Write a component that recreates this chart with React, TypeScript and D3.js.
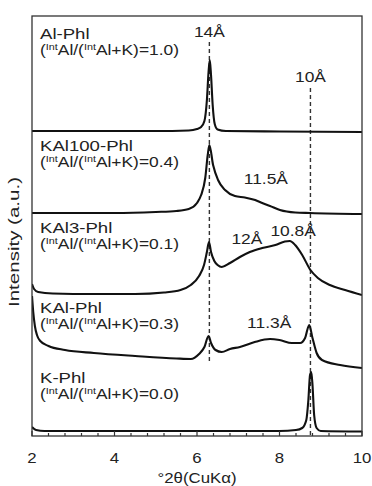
import React from "react";
import * as d3 from "d3";

// Diffraction patterns, stacked intensity (a.u.) sampled along 2θ (degrees, CuKα)
const alPhlTheta = [2.0, 5.0, 5.8, 6.0, 6.1, 6.18, 6.24, 6.28, 6.31, 6.34, 6.38, 6.43, 6.5, 6.7, 8.0, 10.0];
const alPhlInt = [305, 305, 305.5, 307, 309, 315, 336, 364, 376, 361, 331, 312, 306.5, 305, 304.5, 304];

const kal100Theta = [2.0, 4.0, 5.0, 5.5, 5.8, 6.0, 6.1, 6.2, 6.26, 6.3, 6.39, 6.51, 6.68, 6.92, 7.16, 7.41, 7.58, 7.77, 8.01, 8.38, 8.74, 10.0];
const kal100Int = [223, 223, 224, 225, 227, 233, 241, 258, 281, 291, 271, 256, 246, 240, 238.5, 236, 233, 230, 226, 223.5, 223, 222];

const kal3Theta = [2.0, 2.05, 2.15, 2.5, 3.5, 4.5, 5.2, 5.6, 5.85, 6.05, 6.17, 6.24, 6.29, 6.34, 6.42, 6.5, 6.6, 6.8, 7.04, 7.28, 7.58, 7.9, 8.13, 8.25, 8.38, 8.55, 8.75, 8.93, 9.22, 9.59, 10.0];
const kal3Int = [152, 147, 144, 142.5, 142, 142, 143.5, 146, 151, 160, 171, 184, 194, 184, 175, 171, 169, 173, 179, 184, 188, 191, 194.5, 195, 191, 181, 166, 158, 151, 146, 141];

const kalTheta = [2.0, 2.03, 2.07, 2.12, 2.2, 2.4, 2.8, 3.5, 4.5, 5.5, 5.85, 6.05, 6.18, 6.28, 6.34, 6.45, 6.6, 6.8, 7.04, 7.4, 7.77, 8.0, 8.3, 8.5, 8.62, 8.72, 8.8, 8.9, 9.03, 9.47, 10.0];
const kalInt = [140, 124, 110, 101, 95, 90, 86, 83, 80, 77.5, 77, 82, 89, 100, 93, 86, 84, 87, 89, 94, 97, 96, 93, 93, 98, 111, 98, 83, 76, 71, 68];

const kPhlTheta = [2.0, 2.1, 2.3, 8.0, 8.4, 8.55, 8.65, 8.7, 8.74, 8.77, 8.8, 8.84, 8.9, 9.0, 10.0];
const kPhlInt = [9, 6, 5, 5, 6, 8, 16, 36, 61, 64, 51, 21, 8, 5, 4.5];

const sampleNames = ["Al-Phl", "KAl100-Phl", "KAl3-Phl", "KAl-Phl", "K-Phl"];
const sampleRatios = ["1.0", "0.4", "0.1", "0.3", "0.0"];
// label anchor height (stacked intensity) for each sample name
const sampleLabelLevel = [397, 285, 203, 123, 53];

const refTheta = [6.3, 8.75];
const refLabels = ["14Å", "10Å"];
const refTop = [394, 348];
const refBottom = [74, 0];
const refLabelLevel = [399, 354];

const peakLabels = ["11.5Å", "12Å", "10.8Å", "11.3Å"];
const peakTheta = [7.67, 7.21, 8.33, 7.75];
const peakLevel = [252, 192, 200, 108];

const xTicks = [2, 4, 6, 8, 10];
const xMinor = d3.range(2, 10.001, 0.4);

const FONT = "'Liberation Sans', Arial, sans-serif";

export default function App() {
  const W = 372;
  const H = 486;
  const m = { left: 32, right: 10, top: 16, bottom: 50 };
  const x = d3.scaleLinear().domain([2, 10]).range([m.left, W - m.right]);
  const y = d3.scaleLinear().domain([0, 420]).range([H - m.bottom, m.top]);

  const line = d3
    .line<[number, number]>()
    .x((d) => x(d[0]))
    .y((d) => y(d[1]))
    .curve(d3.curveMonotoneX);

  const patterns: [number[], number[]][] = [
    [alPhlTheta, alPhlInt],
    [kal100Theta, kal100Int],
    [kal3Theta, kal3Int],
    [kalTheta, kalInt],
    [kPhlTheta, kPhlInt],
  ];

  const sx = 1.2;
  const textColor = "#222";

  return (
    <svg width={W} height={H} style={{ display: "block", position: "absolute", left: 0, top: 0 }}>
      <rect width={W} height={H} fill="#fff" />
      <defs>
        <clipPath id="plot-clip">
          <rect x={m.left} y={m.top} width={W - m.left - m.right} height={H - m.top - m.bottom} />
        </clipPath>
      </defs>

      {/* reference spacings */}
      {refTheta.map((t, i) => (
        <line
          key={"ref" + i}
          x1={x(t)}
          x2={x(t)}
          y1={y(refTop[i])}
          y2={y(refBottom[i])}
          stroke="#333"
          strokeWidth={1.4}
          strokeDasharray="4,3"
        />
      ))}

      <g clipPath="url(#plot-clip)">
        {patterns.map(([t, v], i) => (
          <path
            key={"p" + i}
            d={line(t.map((tt, j) => [tt, v[j]] as [number, number])) || ""}
            fill="none"
            stroke="#111"
            strokeWidth={2.1}
            strokeLinejoin="round"
          />
        ))}
      </g>

      {/* frame */}
      <rect
        x={m.left}
        y={m.top}
        width={W - m.left - m.right}
        height={H - m.top - m.bottom}
        fill="none"
        stroke="#333"
        strokeWidth={1.3}
      />

      {/* ticks */}
      {xMinor.map((t, i) => {
        const major = xTicks.some((k) => Math.abs(k - t) < 1e-6);
        return (
          <line
            key={"t" + i}
            x1={x(t)}
            x2={x(t)}
            y1={y(0)}
            y2={y(0) - (major ? 5 : 3)}
            stroke="#333"
            strokeWidth={1.2}
          />
        );
      })}
      {xTicks.map((t) => (
        <text
          key={"xl" + t}
          transform={`translate(${x(t)},${H - m.bottom + 27}) scale(${sx},1)`}
          textAnchor="middle"
          fontFamily={FONT}
          fontSize={14}
          fill={textColor}
        >
          {t}
        </text>
      ))}
      <text
        transform={`translate(${x(6)},${H - 3}) scale(${sx},1)`}
        textAnchor="middle"
        fontFamily={FONT}
        fontSize={14}
        fill={textColor}
      >
        °2θ(CuKα)
      </text>
      <text
        transform={`translate(19,${(m.top + H - m.bottom) / 2 + 16}) rotate(-90)`}
        textAnchor="middle"
        fontFamily={FONT}
        fontSize={14}
        fill={textColor}
        textLength={130}
        lengthAdjust="spacingAndGlyphs"
      >
        Intensity (a.u.)
      </text>

      {/* sample labels */}
      {sampleNames.map((name, i) => {
        const yy = y(sampleLabelLevel[i]);
        return (
          <g key={"s" + i} transform={`translate(40,${yy}) scale(${sx},1)`} fontFamily={FONT} fill={textColor}>
            <text x={0} y={0} fontSize={15.5}>{name}</text>
            <text x={0} y={16} fontSize={14.5}>
              (<tspan fontSize={9} dy={-5}>Int</tspan>
              <tspan dy={5}>Al/(</tspan>
              <tspan fontSize={9} dy={-5}>Int</tspan>
              <tspan dy={5}>Al+K)={sampleRatios[i]})</tspan>
            </text>
          </g>
        );
      })}

      {refLabels.map((lab, i) => (
        <text
          key={"rl" + i}
          transform={`translate(${x(refTheta[i])},${y(refLabelLevel[i])}) scale(${sx},1)`}
          textAnchor="middle"
          fontFamily={FONT}
          fontSize={14.5}
          fill={textColor}
        >
          {lab}
        </text>
      ))}
      {peakLabels.map((lab, i) => (
        <text
          key={"pl" + i}
          transform={`translate(${x(peakTheta[i])},${y(peakLevel[i])}) scale(${sx},1)`}
          textAnchor="middle"
          fontFamily={FONT}
          fontSize={14.5}
          fill={textColor}
        >
          {lab}
        </text>
      ))}
    </svg>
  );
}
